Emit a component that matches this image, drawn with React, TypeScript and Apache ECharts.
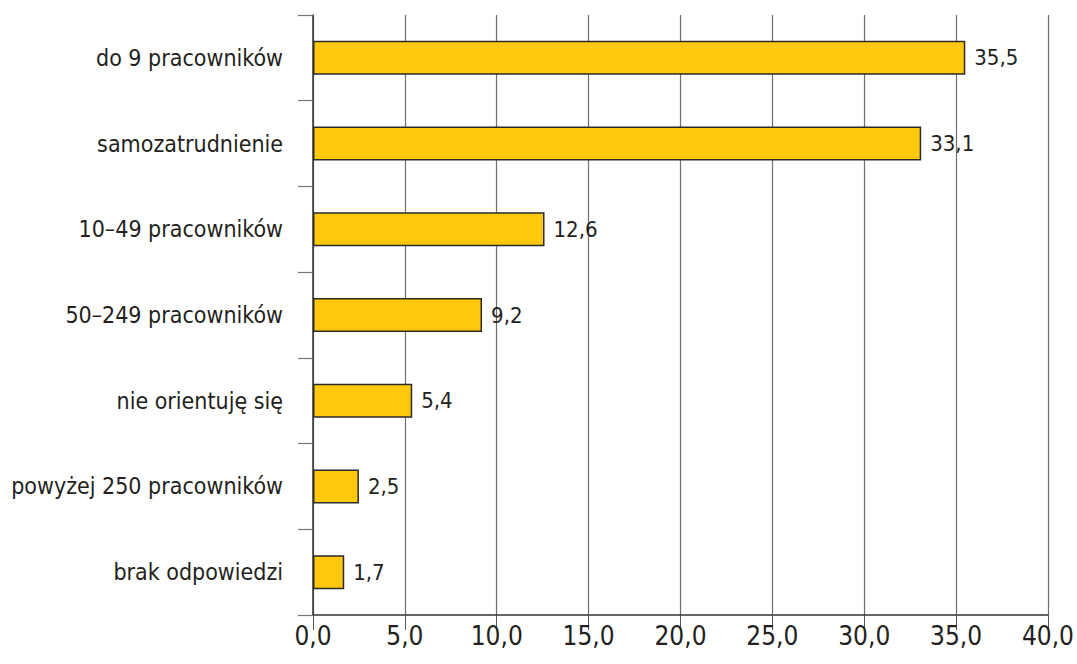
import React, { useEffect, useRef } from "react";
import * as echarts from "echarts";

const categories = [
  "do 9 pracowników",
  "samozatrudnienie",
  "10–49 pracowników",
  "50–249 pracowników",
  "nie orientuję się",
  "powyżej 250 pracowników",
  "brak odpowiedzi",
];
const values = [35.5, 33.1, 12.6, 9.2, 5.4, 2.5, 1.7];
const xMin = 0;
const xMax = 40;
const xInterval = 5;

const FONT = "'DejaVu Sans Condensed', 'Liberation Sans Narrow', sans-serif";
const fmt = (v: number) => v.toFixed(1).replace(".", ",");

export default function App() {
  const ref = useRef<HTMLDivElement>(null);
  useEffect(() => {
    document.body.style.margin = "0";
    document.body.style.overflow = "hidden";
    if (!ref.current) return;
    const chart = echarts.init(ref.current, undefined, { renderer: "svg" });
    chart.setOption({
      animation: false,
      grid: { left: 313, right: 17, top: 15, bottom: 49, containLabel: false },
      xAxis: {
        type: "value",
        min: xMin,
        max: xMax,
        interval: xInterval,
        axisLine: { show: true, lineStyle: { color: "#333", width: 1.5 } },
        axisTick: { show: true, length: 15, lineStyle: { color: "#555", width: 1 } },
        axisLabel: {
          formatter: (v: number) => fmt(v),
          color: "#231f20",
          fontFamily: FONT,
          fontSize: 26,
          margin: 8,
        },
        splitLine: { show: true, lineStyle: { color: "#6f6f6f", width: 1.2 } },
      },
      yAxis: {
        type: "category",
        data: categories,
        inverse: true,
        axisLine: { show: true, lineStyle: { color: "#333", width: 1.5 } },
        axisTick: { show: true, length: 15, lineStyle: { color: "#777", width: 1.2 } },
        axisLabel: {
          color: "#231f20",
          fontFamily: FONT,
          fontSize: 23,
          margin: 30,
        },
        splitLine: { show: false },
      },
      series: [
        {
          type: "bar",
          data: values,
          barWidth: 34,
          itemStyle: { color: "#FFC80B", borderColor: "#2b2b2b", borderWidth: 1.5 },
          label: {
            show: true,
            position: "right",
            distance: 9,
            formatter: (p: any) => fmt(p.value),
            color: "#231f20",
            fontFamily: FONT,
            fontSize: 22,
          },
        },
      ],
    });
    return () => chart.dispose();
  }, []);
  return <div ref={ref} style={{ width: 1077, height: 664 }} />;
}
